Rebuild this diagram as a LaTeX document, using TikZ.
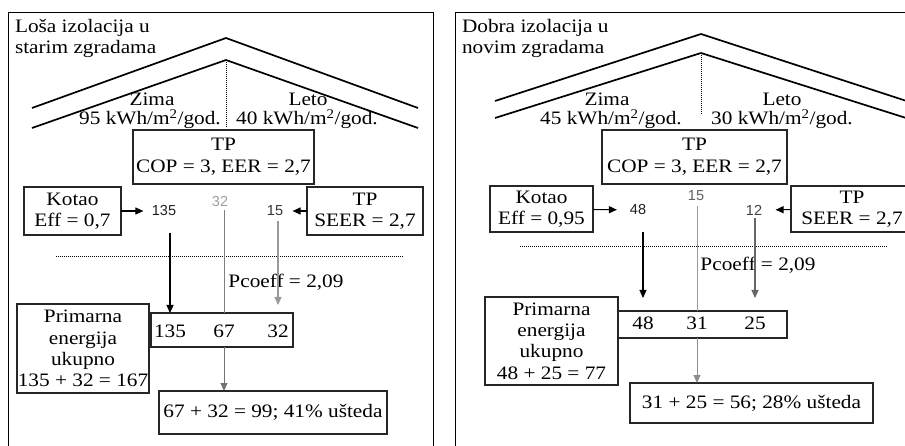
\documentclass[tikz,border=0pt]{standalone}
\usepackage{fontspec}
\setmainfont{Liberation Serif}[FakeStretch=1.12]
\setsansfont{Liberation Sans}
\usetikzlibrary{positioning,arrows.meta}
\usepackage{xcolor}
\newcommand{\txt}{\fontsize{19}{21.3}\selectfont}
\newcommand{\nmb}{\fontsize{14.5}{16}\selectfont\sffamily}

\begin{document}
\begin{tikzpicture}[x=1pt, y=-1pt, every node/.style={inner sep=0,outer sep=0, font=\txt}, align=center,
		box/.style={draw=black!85, line width=1.2pt},
		nmb/.style={font=\nmb},
		roof/.style={line width=1.7pt},
		dots/.style={line width=1pt, densely dotted},
		flow/.style={-{Triangle[length=8pt,width=7pt]}, line width=1.1pt}]
		
		\useasboundingbox (0,0) rectangle (905,446);
		\clip (0,0) rectangle (905,446);
		
		%Frames
		\draw[line width=0.8pt] (8,446) -- (8,12) -- (433,12) -- (433,446);
		\draw[line width=0.8pt] (455,446) -- (455,12) -- (910,12);
		
		%Roofs
		\draw[roof] (32,108) -- (226,38) -- (418,108);
		\draw[roof] (32,128) -- (226,60) -- (418,128);
		\draw[dots] (226,60) -- (226,128);
		\draw[roof] (495,101) -- (701,34) -- (925,107);
		\draw[roof] (495,118) -- (701,53) -- (925,124);
		\draw[dots] (701,53) -- (701,115);
		
		%Nodes left
		\node[anchor=north west, align=left] (titleL) at (15,19) {Loša izolacija u\\starim zgradama};
		\node (zimaL) at (152,99) {Zima};
		\node (kwhL) at (150,119) {95 kWh/m\textsuperscript{2}/god.};
		\node (letoL) at (308,99) {Leto};
		\node (kwhL2) at (307,119) {40 kWh/m\textsuperscript{2}/god.};
		\node[box, minimum width=181pt, minimum height=54pt] (tpL) at (223.5,157) {TP\\[1pt]COP = 3, EER = 2,7};
		\node[box, minimum width=97pt, minimum height=48pt] (kotaoL) at (72.5,211) {Kotao\\Eff = 0,7};
		\node[box, minimum width=116pt, minimum height=48pt] (seerL) at (365,211) {TP\\SEER = 2,7};
		\node[nmb, text=black!88] (n135L) at (164,211) {135};
		\node[nmb, text=black!38] (n32L) at (220,202) {32};
		\node[nmb, text=black!80] (n15L) at (275,211) {15};
		\node (pcL) at (286,282) {Pcoeff = 2,09};
		\node[box, minimum width=132pt, minimum height=89pt] (primL) at (83,348.5) {Primarna\\energija\\ukupno\\135 + 32 = 167};
		\node[box, minimum width=142pt, minimum height=34pt] (sumsL) at (222,330) {};
		\node (sAL) at (170,331) {135};
		\node (sBL) at (224,331) {67};
		\node (sCL) at (278,331) {32};
		\node[box, minimum width=228pt, minimum height=43pt] (resL) at (273,412.5) {67 + 32 = 99; 41\% ušteda};
		
		%Nodes right
		\node[anchor=north west, align=left] (titleR) at (462,19) {Dobra izolacija u\\novim zgradama};
		\node (zimaR) at (607,99) {Zima};
		\node (kwhR) at (611,119) {45 kWh/m\textsuperscript{2}/god.};
		\node (letoR) at (782,99) {Leto};
		\node (kwhR2) at (782,119) {30 kWh/m\textsuperscript{2}/god.};
		\node[box, minimum width=185pt, minimum height=54pt] (tpR) at (694.5,157) {TP\\[1pt]COP = 3, EER = 2,7};
		\node[box, minimum width=103pt, minimum height=46pt] (kotaoR) at (541.5,209) {Kotao\\Eff = 0,95};
		\node[box, minimum width=122pt, minimum height=46pt] (seerR) at (852,209) {TP\\SEER = 2,7};
		\node[nmb, text=black!88] (n48R) at (638,210) {48};
		\node[nmb, text=black!62] (n15R) at (696,196) {15};
		\node[nmb, text=black!75] (n12R) at (754,210) {12};
		\node (pcR) at (758,265) {Pcoeff = 2,09};
		\node[box, minimum width=133pt, minimum height=88pt] (primR) at (551.5,341) {Primarna\\energija\\ukupno\\48 + 25 = 77};
		\node[box, minimum width=169pt, minimum height=27pt] (sumsR) at (702.5,324.5) {};
		\node (sAR) at (643,323) {48};
		\node (sBR) at (697,323) {31};
		\node (sCR) at (755,323) {25};
		\node[box, minimum width=243pt, minimum height=40pt] (resR) at (751.5,403) {31 + 25 = 56; 28\% ušteda};
		
		%Lines left
		\draw[dots] (56,257) -- (404,257);
		\draw[flow, shorten >=8.5pt] (kotaoL) -- (n135L);
		\draw[flow, shorten >=9.5pt] (seerL) -- (n15L);
		\draw[flow, shorten <=17pt] (n135L.south -| sAL) -- (sAL |- sumsL.north);
		\draw[line width=1pt, black!50, shorten <=3pt] (n32L.south -| sBL) -- (sBL |- sumsL.north);
		\draw[flow, black!40, shorten <=5pt, shorten >=8pt] (n15L.south -| sCL) -- (sCL |- sumsL.north);
		\draw[flow, line width=1pt, black!55] (sBL |- sumsL.south) -- (sBL |- resL.north);
		
		%Lines right
		\draw[dots] (520,247) -- (888,247);
		\draw[flow, shorten >=13pt] (kotaoR) -- (n48R);
		\draw[flow, shorten >=13.5pt] (seerR) -- (n12R);
		\draw[flow, shorten <=17pt, shorten >=13pt] (n48R.south -| sAR) -- (sAR |- sumsR.north);
		\draw[line width=0.9pt, black!40, shorten <=5pt] (n15R.south -| sBR) -- (sBR |- sumsR.north);
		\draw[flow, black!60, shorten <=3pt, shorten >=13pt] (n12R.south -| sCR) -- (sCR |- sumsR.north);
		\draw[flow, line width=0.9pt, black!45] (sBR |- sumsR.south) -- (sBR |- resR.north);
	\end{tikzpicture}
\end{document}
